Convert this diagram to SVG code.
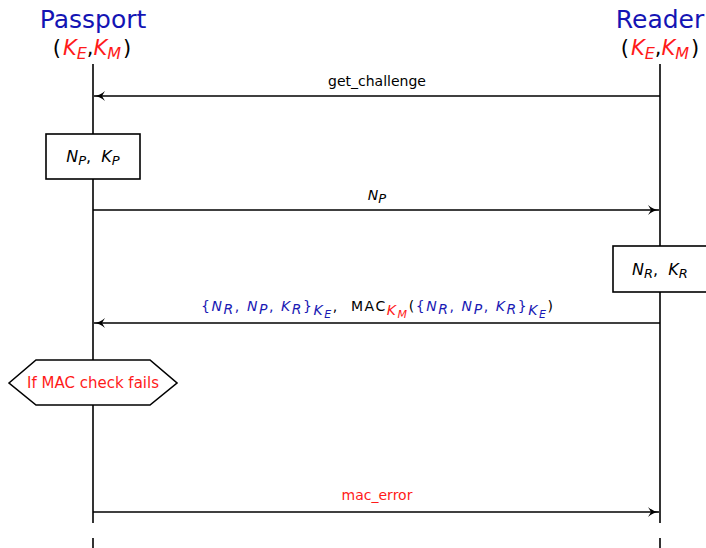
<svg xmlns="http://www.w3.org/2000/svg" width="706" height="548" viewBox="0 0 706 548">
<defs>
<marker id="ah" markerWidth="12" markerHeight="10" refX="11" refY="5" orient="auto" markerUnits="userSpaceOnUse">
<path d="M0,0 Q5,4.5 11,5 Q5,5.5 0,10 L3,5 Z" fill="#000"/>
</marker>
<style>
text{font-family:"DejaVu Sans","Liberation Sans",sans-serif}
.title{font-size:25px;fill:#1414b4;text-anchor:middle}
.keys{font-size:21px;text-anchor:middle}
.r{fill:#ff1a1a}
.b{fill:#1a1ab4}
.k{fill:#000}
.i{font-style:italic}
.lbl{font-size:14px;text-anchor:middle}
.life{stroke:#000;stroke-width:1.6;fill:none}
.msg{stroke:#000;stroke-width:1.6;fill:none;marker-end:url(#ah)}
.box{fill:#fff;stroke:#000;stroke-width:1.6}
.sub{font-size:13px}
.msub{font-size:14px}
.ksub{font-size:16px}
.ss{font-size:11px}
</style>
</defs>
<g id="passport">
<text class="title" x="93" y="28">Passport</text>
<text class="keys" x="92" y="55"><tspan class="k">(</tspan><tspan class="r i" dx="2">K</tspan><tspan class="r i ksub" dy="4">E</tspan><tspan class="k" dy="-4">,</tspan><tspan class="r i">K</tspan><tspan class="r i ksub" dy="4">M</tspan><tspan class="k" dy="-4" dx="2">)</tspan></text>
<line class="life" x1="93" y1="64" x2="93" y2="523"/>
<line class="life" x1="93" y1="538" x2="93" y2="548"/>
</g>
<g id="reader">
<text class="title" x="660" y="28">Reader</text>
<text class="keys" x="660" y="55"><tspan class="k">(</tspan><tspan class="r i" dx="2">K</tspan><tspan class="r i ksub" dy="4">E</tspan><tspan class="k" dy="-4">,</tspan><tspan class="r i">K</tspan><tspan class="r i ksub" dy="4">M</tspan><tspan class="k" dy="-4" dx="2">)</tspan></text>
<line class="life" x1="660" y1="64" x2="660" y2="523"/>
<line class="life" x1="660" y1="538" x2="660" y2="548"/>
</g>
<g id="passport-box">
<rect class="box" x="46" y="134" width="94" height="45"/>
<text x="93" y="162" font-size="16" text-anchor="middle" xml:space="preserve"><tspan class="i">N</tspan><tspan class="i sub" dy="3">P</tspan><tspan dy="-3">,  </tspan><tspan class="i">K</tspan><tspan class="i sub" dy="3">P</tspan></text>
</g>
<g id="reader-box">
<rect class="box" x="613" y="246" width="95" height="46"/>
<text x="660" y="275" font-size="16" text-anchor="middle" xml:space="preserve"><tspan class="i">N</tspan><tspan class="i sub" dy="3">R</tspan><tspan dy="-3">,  </tspan><tspan class="i">K</tspan><tspan class="i sub" dy="3">R</tspan></text>
</g>
<g id="mac-check">
<polygon class="box" points="9,383 36,360 150,360 177,383 150,405 36,405"/>
<text x="93" y="388" font-size="15" text-anchor="middle" class="r">If MAC check fails</text>
</g>
<g id="connectors">
<line class="msg" x1="660" y1="96" x2="94" y2="96"/>
<line class="msg" x1="93" y1="210" x2="659" y2="210"/>
<line class="msg" x1="660" y1="323" x2="94" y2="323"/>
<line class="msg" x1="93" y1="512" x2="659" y2="512"/>
</g>
<g id="labels">
<text class="lbl" x="377" y="86">get_challenge</text>
<text class="lbl" x="377" y="200" font-size="16"><tspan class="i">N</tspan><tspan class="i sub" dy="3">P</tspan></text>
<text class="lbl" x="377" y="311" font-size="18" textLength="352" lengthAdjust="spacing" xml:space="preserve"><tspan class="b">{</tspan><tspan class="b i">N</tspan><tspan class="b i msub" dy="3">R</tspan><tspan class="b" dy="-3">, </tspan><tspan class="b i">N</tspan><tspan class="b i msub" dy="3">P</tspan><tspan class="b" dy="-3">, </tspan><tspan class="b i">K</tspan><tspan class="b i msub" dy="3">R</tspan><tspan class="b" dy="-3">}</tspan><tspan class="b i msub" dy="4">K</tspan><tspan class="b i ss" dy="3">E</tspan><tspan dy="-7">,  MAC</tspan><tspan class="r i msub" dy="4">K</tspan><tspan class="r i ss" dy="3">M</tspan><tspan dy="-7">(</tspan><tspan class="b">{</tspan><tspan class="b i">N</tspan><tspan class="b i msub" dy="3">R</tspan><tspan class="b" dy="-3">, </tspan><tspan class="b i">N</tspan><tspan class="b i msub" dy="3">P</tspan><tspan class="b" dy="-3">, </tspan><tspan class="b i">K</tspan><tspan class="b i msub" dy="3">R</tspan><tspan class="b" dy="-3">}</tspan><tspan class="b i msub" dy="4">K</tspan><tspan class="b i ss" dy="3">E</tspan><tspan dy="-7">)</tspan></text>
<text class="lbl r" x="377" y="500">mac_error</text>
</g>
</svg>
